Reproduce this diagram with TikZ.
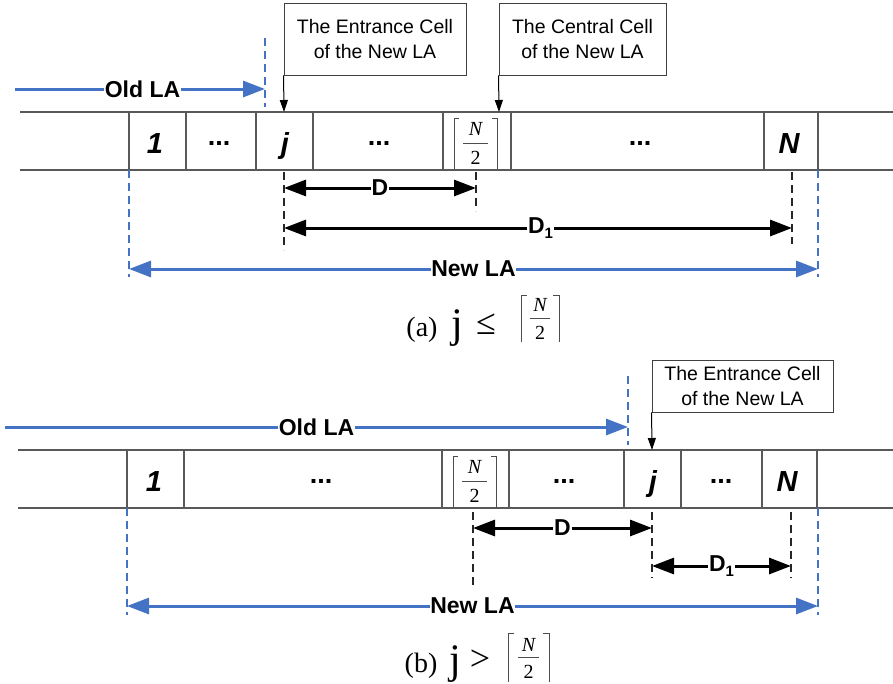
\documentclass[tikz,border=0pt]{standalone}
\usepackage{fontspec}
\setmainfont{Liberation Sans}
\newfontfamily\serifc{Liberation Serif}
\usetikzlibrary{arrows.meta}
\definecolor{lablue}{RGB}{68,114,196}
\tikzset{
  strip/.style={draw=black!65, line width=1.1pt},
  bracket/.style={draw=black!70, line width=0.8pt},
  cellnum/.style={anchor=base, inner sep=0pt, font=\fontsize{29}{30}\selectfont\bfseries\itshape},
  celldots/.style={anchor=base, inner sep=0pt, font=\fontsize{27}{28}\selectfont\bfseries},
  fracnum/.style={inner sep=0pt, font=\serifc\fontsize{20}{22}\selectfont},
  callout/.style={draw=black!75, line width=0.9pt, align=center, inner sep=0pt,
    font=\fontsize{19.5}{24.5}\selectfont},
  callarrow/.style={draw=black, line width=1pt, -{Triangle[length=12pt,width=8pt]}},
  bluearr/.style={draw=lablue, line width=3pt, -{Triangle[length=22pt,width=16pt]}},
  bluedbl/.style={draw=lablue, line width=3pt, {Triangle[length=22pt,width=16pt]}-{Triangle[length=22pt,width=16pt]}},
  blackdbl/.style={draw=black, line width=3pt, {Triangle[length=22pt,width=16pt]}-{Triangle[length=22pt,width=16pt]}},
  lbl/.style={fill=white, inner sep=0.8pt, font=\fontsize{23}{24}\selectfont\bfseries},
  bluedash/.style={draw=lablue, line width=1.3pt, dash pattern=on 8pt off 5pt},
  blackdash/.style={draw=black!85, line width=1.2pt, dash pattern=on 8pt off 5pt},
  captxt/.style={anchor=base, inner sep=0pt, font=\serifc\fontsize{28}{30}\selectfont},
  capj/.style={anchor=base, inner sep=0pt, font=\serifc\fontsize{42}{42}\selectfont},
  caprel/.style={anchor=base, inner sep=0pt, font=\serifc\fontsize{36}{36}\selectfont},
}
\begin{document}
\begin{tikzpicture}[x=1pt,y=-1pt]
\useasboundingbox (0,0) rectangle (893,683);

% ================= (a) =================
\coordinate (aTL) at (20,112); \coordinate (aTR) at (893,112);
\coordinate (aBL) at (20,170); \coordinate (aBR) at (893,170);
\draw[strip] (aTL) -- (aTR) (aBL) -- (aBR);
\foreach \x [count=\i] in {129,186,256,313,443,511,764,818}{
  \coordinate (av\i t) at (\x,112); \coordinate (av\i b) at (\x,170);
  \draw[strip] (av\i t) -- (av\i b);
}
\node[cellnum] (a1) at (155,153) {1};
\node[celldots] (ad1) at (219,145) {...};
\node[cellnum] (aj) at (285,153) {j};
\node[celldots] (ad2) at (379,145) {...};
\node[celldots] (ad3) at (640,145) {...};
\node[cellnum] (aN) at (789,153) {N};
\draw[bracket] (459,118) -- (454,118) -- (454,169);
\draw[bracket] (492,118) -- (497,118) -- (497,169);
\node[fracnum] (aFn) at (475.5,129) {\itshape N};
\node[fracnum] (aFd) at (475.5,158) {2};
\draw[bracket] (463,143) -- (488,143);

\node[callout, minimum width=182pt, minimum height=72pt] (ca) at (375,39) {The Entrance Cell\\of the New LA};
\coordinate (caT) at (284,112);
\draw[callarrow] (ca.south west) -- (caT);
\node[callout, minimum width=167pt, minimum height=72pt] (cb) at (582.5,39) {The Central Cell\\of the New LA};
\coordinate (cbT) at (499,112);
\draw[callarrow] (cb.south west) -- (cbT);

\coordinate (oa1) at (15,89); \coordinate (oa2) at (265,89);
\draw[bluearr] (oa1) -- node[lbl, pos=0.51] (oalbl) {Old LA} (oa2);
\coordinate (oat) at (265,38); \coordinate (oab) at (265,107);
\draw[bluedash] (oat) -- (oab);

\coordinate (aj1) at (284,172); \coordinate (aj2) at (284,250);
\coordinate (ac1) at (476,172); \coordinate (ac2) at (476,211);
\coordinate (an1) at (792,172); \coordinate (an2) at (792,244);
\draw[blackdash] (aj1) -- (aj2);
\draw[blackdash] (ac1) -- (ac2);
\draw[blackdash] (an1) -- (an2);
\coordinate (aDl) at (284,188); \coordinate (aDr) at (476,188);
\draw[blackdbl] (aDl) -- node[lbl] (aDlbl) {D} (aDr);
\coordinate (aD1l) at (284,228); \coordinate (aD1r) at (792,228);
\draw[blackdbl] (aD1l) -- node[lbl, pos=0.505] (aD1lbl) {D\raisebox{-0.4ex}{\fontsize{15}{15}\selectfont 1}} (aD1r);

\coordinate (aL1) at (129,170); \coordinate (aL2) at (129,277);
\coordinate (aR1) at (818,170); \coordinate (aR2) at (818,277);
\draw[bluedash] (aL1) -- (aL2);
\draw[bluedash] (aR1) -- (aR2);
\coordinate (anl) at (129,269); \coordinate (anr) at (818,269);
\draw[bluedbl] (anl) -- node[lbl] (anlbl) {New LA} (anr);

\node[captxt] (capa) at (422,336) {(a)};
\node[capj] (capaj) at (457,337) {j};
\node[caprel] (capale) at (486,334) {≤};
\draw[bracket] (527,295) -- (521,295) -- (521,342);
\draw[bracket] (553,295) -- (559,295) -- (559,342);
\node[fracnum] (capaN) at (540,305) {\itshape N};
\node[fracnum] (capa2) at (540,333) {2};
\draw[bracket] (530,318) -- (550,318);

% ================= (b) =================
\coordinate (bTL) at (18,450); \coordinate (bTR) at (893,450);
\coordinate (bBL) at (18,508); \coordinate (bBR) at (893,508);
\draw[strip] (bTL) -- (bTR) (bBL) -- (bBR);
\foreach \x [count=\i] in {127,184,442,509,624,681,762,817}{
  \coordinate (bv\i t) at (\x,450); \coordinate (bv\i b) at (\x,508);
  \draw[strip] (bv\i t) -- (bv\i b);
}
\node[cellnum] (b1) at (154,491) {1};
\node[celldots] (bd1) at (321,483) {...};
\node[celldots] (bd2) at (564,483) {...};
\node[cellnum] (bj) at (653,491) {j};
\node[celldots] (bd3) at (721,483) {...};
\node[cellnum] (bN) at (787,491) {N};
\draw[bracket] (458,456) -- (453,456) -- (453,507);
\draw[bracket] (491,456) -- (496,456) -- (496,507);
\node[fracnum] (bFn) at (474.5,467) {\itshape N};
\node[fracnum] (bFd) at (474.5,496) {2};
\draw[bracket] (462,481) -- (487,481);

\node[callout, minimum width=181pt, minimum height=52pt] (cc) at (742.5,386) {The Entrance Cell\\of the New LA};
\coordinate (ccT) at (652,450);
\draw[callarrow] (cc.south west) -- (ccT);

\coordinate (ob1) at (5,427); \coordinate (ob2) at (628,427);
\draw[bluearr] (ob1) -- node[lbl, pos=0.5] (oblbl) {Old LA} (ob2);
\coordinate (obt) at (628,376); \coordinate (obb) at (628,445);
\draw[bluedash] (obt) -- (obb);

\coordinate (bc1) at (473,512); \coordinate (bc2) at (473,585);
\coordinate (bj1) at (652,512); \coordinate (bj2) at (652,578);
\coordinate (bn1) at (791,512); \coordinate (bn2) at (791,578);
\draw[blackdash] (bc1) -- (bc2);
\draw[blackdash] (bj1) -- (bj2);
\draw[blackdash] (bn1) -- (bn2);
\coordinate (bDl) at (473,528); \coordinate (bDr) at (652,528);
\draw[blackdbl] (bDl) -- node[lbl] (bDlbl) {D} (bDr);
\coordinate (bD1l) at (652,566); \coordinate (bD1r) at (791,566);
\draw[blackdbl] (bD1l) -- node[lbl] (bD1lbl) {D\raisebox{-0.4ex}{\fontsize{15}{15}\selectfont 1}} (bD1r);

\coordinate (bL1) at (127,508); \coordinate (bL2) at (127,615);
\coordinate (bR1) at (818,508); \coordinate (bR2) at (818,615);
\draw[bluedash] (bL1) -- (bL2);
\draw[bluedash] (bR1) -- (bR2);
\coordinate (bnl) at (127,606); \coordinate (bnr) at (818,606);
\draw[bluedbl] (bnl) -- node[lbl] (bnlbl) {New LA} (bnr);

\node[captxt] (capb) at (421,672) {(b)};
\node[capj] (capbj) at (455,673) {j};
\node[caprel] (capbgt) at (480,670) {>};
\draw[bracket] (514,633) -- (508,633) -- (508,682);
\draw[bracket] (543,633) -- (549,633) -- (549,682);
\node[fracnum] (capbN) at (528.5,645) {\itshape N};
\node[fracnum] (capb2) at (528.5,672) {2};
\draw[bracket] (518,657) -- (539,657);
\end{tikzpicture}
\end{document}
